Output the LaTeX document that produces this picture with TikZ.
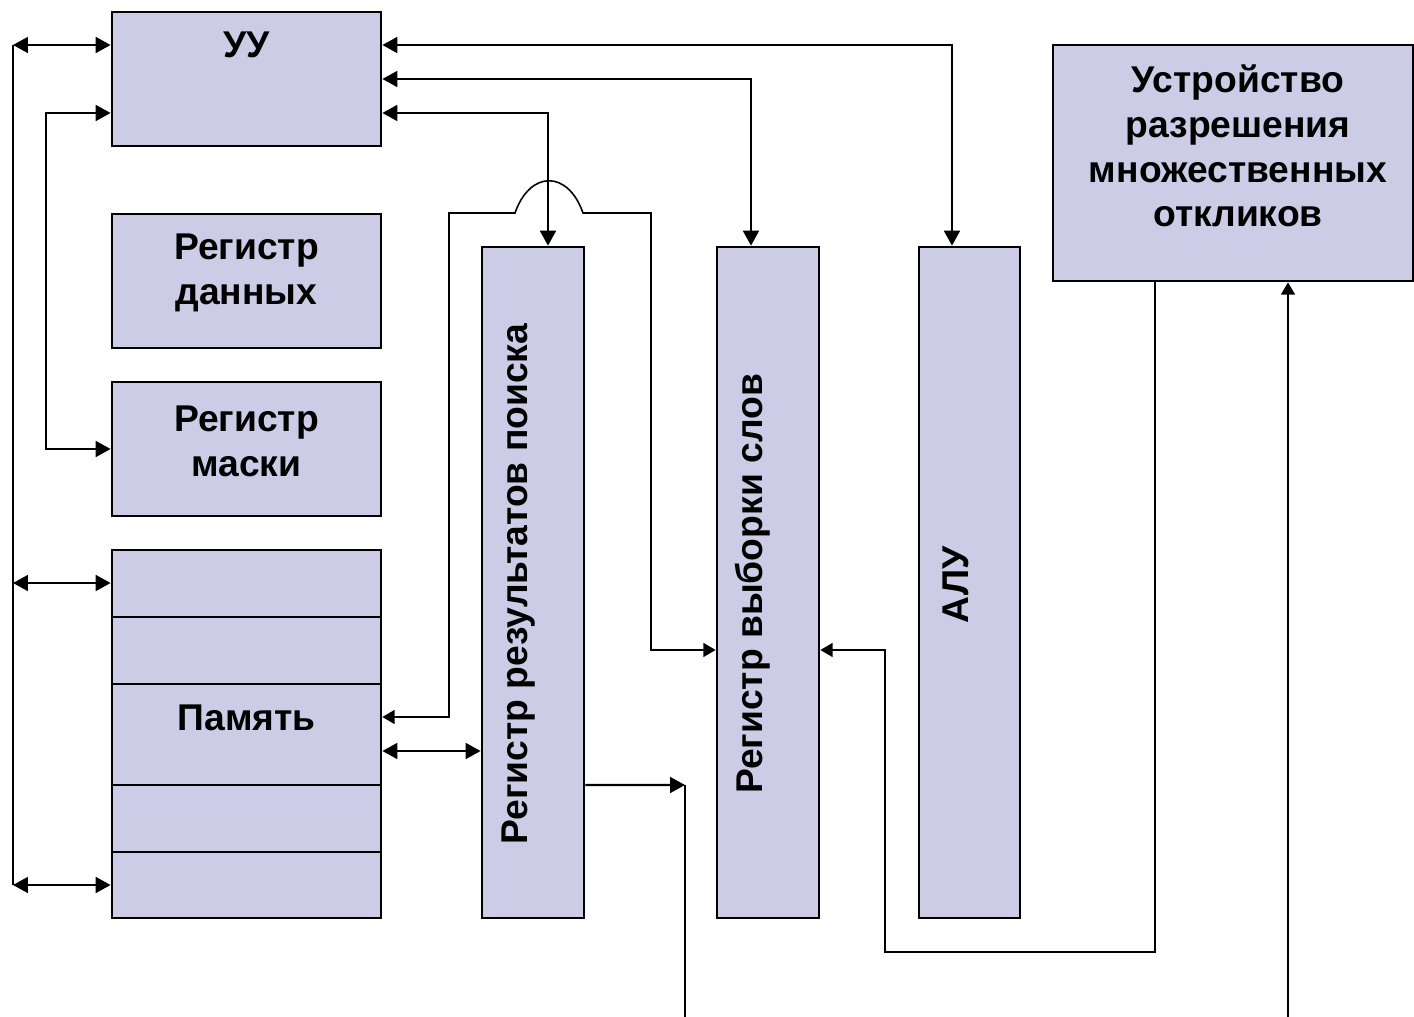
\documentclass[tikz,border=0pt]{standalone}
\usepackage{fontspec}
\setmainfont{Liberation Sans}
\usetikzlibrary{arrows.meta,calc}
\definecolor{blockfill}{RGB}{204,204,230}
\tikzset{
  blk/.style={draw,line width=1.6pt,fill=blockfill,inner sep=0pt},
  txt/.style={font=\bfseries\fontsize{21.2}{25.5}\selectfont,align=center,inner sep=0pt},
  lnk/.style={line width=1.3pt,>={Triangle[length=8.5pt,width=9pt]}},
  thinlnk/.style={line width=0.9pt,>={Triangle[length=7pt,width=8pt]}},
  sep/.style={line width=1.1pt},
  sepbold/.style={line width=1.6pt},
}

\begin{document}
\begin{tikzpicture}[x=0.02cm,y=-0.02cm]
  \useasboundingbox (0,0) rectangle (1414,1017);
  \node[blk,minimum width=5.38cm,minimum height=2.68cm] (uu) at (246.5,79) {};
  \node[blk,minimum width=5.38cm,minimum height=2.68cm] (dat) at (246.5,281) {};
  \node[blk,minimum width=5.38cm,minimum height=2.68cm] (mask) at (246.5,449) {};
  \node[blk,minimum width=5.38cm,minimum height=7.36cm] (mem) at (246.5,734) {};
  \node[blk,minimum width=2.04cm,minimum height=13.42cm] (rrp) at (533,582.5) {};
  \node[blk,minimum width=2.04cm,minimum height=13.42cm] (rvs) at (768,582.5) {};
  \node[blk,minimum width=2.02cm,minimum height=13.42cm] (alu) at (969.5,582.5) {};
  \node[blk,minimum width=7.2cm,minimum height=4.72cm] (umo) at (1233,163) {};
  \draw[sep] (112,617) -- (381,617);
  \draw[sepbold] (112,684) -- (381,684);
  \draw[sepbold] (112,785) -- (381,785);
  \draw[sep] (112,852) -- (381,852);
  \node[txt] (uutxt) at (246.5,45) {УУ};
  \node[txt] (dattxt) at (246.5,273) {Регистр\\данных};
  \node[txt] (masktxt) at (246.5,441) {Регистр\\маски};
  \node[txt] (memtxt) at (246.5,718) {Память};
  \node[txt] (umotxt) at (1238,146) {Устройство\\разрешения\\множественных\\откликов};
  \node[txt,rotate=90] (rrptxt) at (519,584) {Регистр результатов поиска};
  \node[txt,rotate=90] (rvstxt) at (753,584) {Регистр выборки слов};
  \node[txt,rotate=90] (alutxt) at (956,585) {АЛУ};
  \coordinate (busT) at (13,45);
  \coordinate (busM) at (13,583);
  \coordinate (busB) at (13,885);
  \coordinate (mskT) at (46,113);
  \coordinate (mskB) at (46,449);
  \coordinate (hopL) at (515,213);
  \coordinate (hopR) at (583,213);
  \coordinate (outJ) at (685,785);
  \coordinate (outB) at (685,1017);
  \coordinate (retC) at (885,952);
  \coordinate (inB) at (1288,1017);
  \draw[thinlnk] (busT) -- (busB);
  \draw[lnk,<->] (busT) -- (busT -| uu.west);
  \draw[lnk,<->] (busM) -- (busM -| mem.west);
  \draw[lnk,<->] (busB) -- (busB -| mem.west);
  \draw[lnk,<->] (mskT -| uu.west) -- (mskT) -- (mskB) -- (mask.west);
  \draw[lnk,<->] ([yshift=0.68cm]uu.east) -| ([xshift=-0.35cm]alu.north);
  \draw[lnk,<->] (uu.east) -| ([xshift=-0.34cm]rvs.north);
  \draw[lnk,<->] ([yshift=-0.68cm]uu.east) -| ([xshift=0.3cm]rrp.north);
  \draw[thinlnk,<->] ([yshift=0.34cm]mem.east) -| (449,213) -- (hopL)
    .. controls (530,170) and (568,170) .. (hopR) -- (651,213) |- ([yshift=-1.35cm]rvs.west);
  \draw[lnk,<->] ($(mem.east)+(0,17)$) -- ($(rrp.west |- mem.east)+(0,17)$);
  \draw[lnk,->] ($(rrp.east)+(0,202.5)$) -- (outJ);
  \draw[thinlnk] (outJ) -- (outB);
  \draw[thinlnk,->] ($(umo.south)+(-78,0)$) |- (retC) |- ($(rvs.east)+(0,67.5)$);
  \draw[thinlnk,->] (inB) -- (inB |- umo.south);
\end{tikzpicture}
\end{document}
